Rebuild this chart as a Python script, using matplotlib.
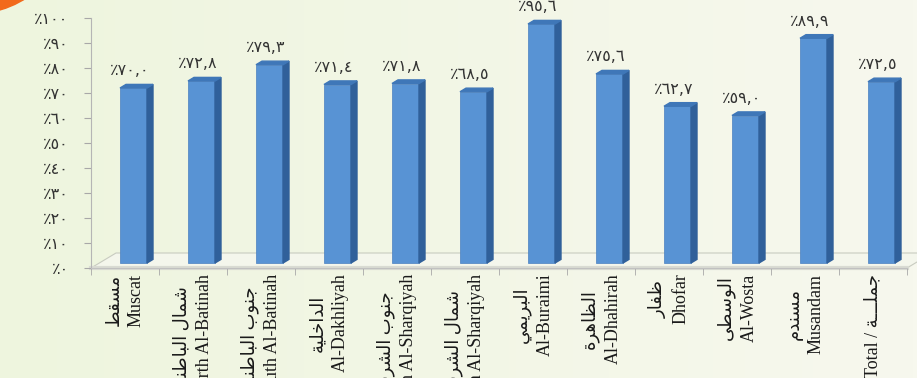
import numpy as np
import matplotlib
matplotlib.use("Agg")
import matplotlib.pyplot as plt
from matplotlib.patches import Polygon, Circle

# data
regions_ar = ["مسقط", "شمال الباطنة", "جنوب الباطنة", "الداخلية", "جنوب الشرقية",
              "شمال الشرقية", "البريمي", "الظاهرة", "ظفار", "الوسطى", "مسندم", "جملـــة"]
regions_en = ["Muscat", "North Al-Batinah", "South Al-Batinah", "Al-Dakhliyah",
              "South Al-Sharqiyah", "North Al-Sharqiyah", "Al-Buraimi", "Al-Dhahirah",
              "Dhofar", "Al-Wosta", "Musandam", "Total"]
values = [70.0, 72.8, 79.3, 71.4, 71.8, 68.5, 95.6, 75.6, 62.7, 59.0, 89.9, 72.5]
yticks = list(range(0, 101, 10))

# minimal arabic shaping (presentation forms) since matplotlib has no bidi support
FORMS = {
    'ا': ('\uFE8D', '\uFE8E', None, None),
    'ب': ('\uFE8F', '\uFE90', '\uFE91', '\uFE92'),
    'ة': ('\uFE93', '\uFE94', None, None),
    'ج': ('\uFE9D', '\uFE9E', '\uFE9F', '\uFEA0'),
    'خ': ('\uFEA5', '\uFEA6', '\uFEA7', '\uFEA8'),
    'د': ('\uFEA9', '\uFEAA', None, None),
    'ر': ('\uFEAD', '\uFEAE', None, None),
    'س': ('\uFEB1', '\uFEB2', '\uFEB3', '\uFEB4'),
    'ش': ('\uFEB5', '\uFEB6', '\uFEB7', '\uFEB8'),
    'ط': ('\uFEC1', '\uFEC2', '\uFEC3', '\uFEC4'),
    'ظ': ('\uFEC5', '\uFEC6', '\uFEC7', '\uFEC8'),
    'ف': ('\uFED1', '\uFED2', '\uFED3', '\uFED4'),
    'ق': ('\uFED5', '\uFED6', '\uFED7', '\uFED8'),
    'ل': ('\uFEDD', '\uFEDE', '\uFEDF', '\uFEE0'),
    'م': ('\uFEE1', '\uFEE2', '\uFEE3', '\uFEE4'),
    'ن': ('\uFEE5', '\uFEE6', '\uFEE7', '\uFEE8'),
    'ه': ('\uFEE9', '\uFEEA', '\uFEEB', '\uFEEC'),
    'و': ('\uFEED', '\uFEEE', None, None),
    'ى': ('\uFEEF', '\uFEF0', None, None),
    'ي': ('\uFEF1', '\uFEF2', '\uFEF3', '\uFEF4'),
    'ـ': ('\u0640', '\u0640', '\u0640', '\u0640'),
}


def shape(s):
    out = []
    for i, ch in enumerate(s):
        if ch not in FORMS:
            out.append(ch)
            continue
        f = FORMS[ch]
        prev = s[i - 1] if i > 0 else ''
        nxt = s[i + 1] if i + 1 < len(s) else ''
        jp = prev in FORMS and FORMS[prev][2] is not None
        jn = f[2] is not None and nxt in FORMS
        if jp and jn:
            out.append(f[3])
        elif jp:
            out.append(f[1])
        elif jn:
            out.append(f[2])
        else:
            out.append(f[0])
    return ''.join(out)[::-1]


AR_DIG = str.maketrans('0123456789.', '٠١٢٣٤٥٦٧٨٩,')


def ar_num(s):
    return s.translate(AR_DIG)


labels = []
for ar, en in zip(regions_ar, regions_en):
    if en == "Total":
        labels.append("Total / " + shape(ar))
    else:
        labels.append(shape(ar) + "\n" + en)

W, H = 917, 378
fig = plt.figure(figsize=(W / 100, H / 100), dpi=100)

# background with slight gradient + orange corner
bg = fig.add_axes([0, 0, 1, 1])
grad = np.linspace(0, 1, 256)[None, :, None]
c1 = np.array([0xEE, 0xF5, 0xDE]) / 255
c2 = np.array([0xF7, 0xF8, 0xEE]) / 255
bg.imshow(c1 + (c2 - c1) * grad, aspect='auto', extent=[0, W, H, 0])
bg.add_patch(Circle((-28, -86), 100, color='#F26A1B'))
bg.set_xlim(0, W)
bg.set_ylim(H, 0)
bg.axis('off')

ax = fig.add_axes([91 / W, 110 / H, 816 / W, 250 / H])
ax.set_facecolor('none')
n = len(values)
ax.set_xlim(-0.5, n - 0.5)
ax.set_ylim(0, 100)

ppx = ax.bbox.width / n
ppy = ax.bbox.height / 100.0

# floor
fdx, fdy = 25 / ppx, 15 / ppy
floor = Polygon([(-0.5, 0), (n - 0.5, 0), (n - 0.5 + fdx, fdy), (-0.5 + fdx, fdy)],
                closed=True, facecolor='#F4F6EC', edgecolor='#C8CBC0', lw=0.8,
                clip_on=False, zorder=1)
ax.add_patch(floor)
ax.plot([-0.5, n - 0.5], [0, 0], color='#D9DBD3', lw=3, clip_on=False, zorder=1.5)

# 3d-ish bars
x = np.arange(n)
base = 5 / ppy
left = x - 5 / ppx
bw = 27 / ppx
sdx, sdy = 6 / ppx, 3.6 / ppy
ax.bar(left, values, width=bw, bottom=base, align='edge', color='#5893D4',
       edgecolor='#4A80C0', lw=0.5, zorder=3)
for xl, v in zip(left, values):
    xr = xl + bw
    top = base + v
    ax.add_patch(Polygon([(xr, base), (xr, top), (xr + sdx, top + sdy), (xr + sdx, base + sdy)],
                         closed=True, color='#30609A', zorder=3, clip_on=False))
    ax.add_patch(Polygon([(xl, top), (xr, top), (xr + sdx, top + sdy), (xl + sdx, top + sdy)],
                         closed=True, color='#3F77B8', zorder=3, clip_on=False))
    ax.annotate('٪' + ar_num(f"{v:.1f}"), (xl + 10 / ppx, top), xytext=(0, 7),
                textcoords='offset points', ha='center', va='bottom',
                fontsize=11.5, color='#333333', family='DejaVu Sans')

# axes styling
for s in ['top', 'right']:
    ax.spines[s].set_visible(False)
ax.spines['left'].set_color('#B5B5B5')
ax.spines['bottom'].set_color('#C0C0C0')
ax.set_yticks(yticks)
ax.set_yticklabels(['٪' + ar_num(str(t)) for t in yticks], family='DejaVu Sans',
                   fontsize=11.5, color='#333333')
ax.tick_params(axis='y', length=5, color='#A8A8A8', pad=11)
ax.set_xticks(x)
ax.set_xticklabels(labels, rotation=90, fontsize=13, color='#1A1A1A',
                   family=['Liberation Serif', 'DejaVu Sans'],
                   multialignment='center', linespacing=1.4)
ax.set_xticks(np.arange(-0.5, n), minor=True)
ax.tick_params(axis='x', which='major', length=0, pad=4)
ax.tick_params(axis='x', which='minor', length=5, color='#A8A8A8')

fig.savefig('out.png', dpi=100)
